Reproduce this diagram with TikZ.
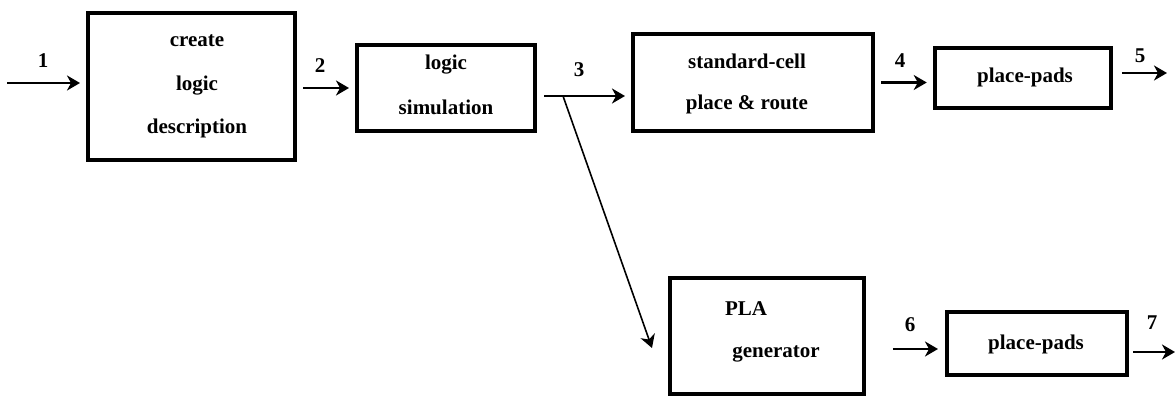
\documentclass[tikz,border=0pt]{standalone}
\usepackage{fontspec}
\setmainfont{Liberation Serif}
\usetikzlibrary{arrows.meta}

\begin{document}
\begin{tikzpicture}[x=1pt, y=-1pt,
  block/.style={draw, line width=4pt, inner sep=0pt, outer sep=0pt, rectangle},
  txt/.style={font=\bfseries\fontsize{21}{25}\selectfont, anchor=base, inner sep=0pt},
  num/.style={font=\bfseries\fontsize{21}{25}\selectfont, anchor=base, inner sep=0pt},
  tip/.style={-{Stealth[length=13pt, width=15pt, inset=4pt]}},
  flow/.style={tip, line width=2.2pt},
  branch/.style={tip, line width=1.6pt}]

\useasboundingbox (0,0) rectangle (1175,396);

% process boxes
\node[block, minimum width=207pt, minimum height=147pt] (create) at (191.5,86.5) {};
\node[block, minimum width=178pt, minimum height=86.5pt] (logic) at (446,88) {};
\node[block, minimum width=240.5pt, minimum height=97pt] (sc) at (752.75,82.5) {};
\node[block, minimum width=176.5pt, minimum height=60.5pt] (padsA) at (1023,78) {};
\node[block, minimum width=194.5pt, minimum height=116pt] (pla) at (767,336) {};
\node[block, minimum width=179.5pt, minimum height=63pt] (padsB) at (1036.75,343.5) {};

% box texts
\node[txt] (createA) at (197,47) {create};
\node[txt] (createB) at (197,90) {logic};
\node[txt] (createC) at (197,133) {description};
\node[txt] (logicA) at (446,70) {logic};
\node[txt] (logicB) at (446,114) {simulation};
\node[txt] (scA) at (747,69) {standard-cell};
\node[txt] (scB) at (747,110) {place \& route};
\node[txt] (padsAT) at (1025,82) {place-pads};
\node[txt] (plaA) at (746,315) {PLA};
\node[txt] (plaB) at (776,357) {generator};
\node[txt] (padsBT) at (1036,349) {place-pads};

% free ends and the fork
\coordinate (in1) at (7,83);
\coordinate (fork) at (563,96);
\coordinate (plaIn) at (652,348);
\coordinate (out5) at (1167,73);
\coordinate (out7) at (1175,352);

% connectors
\draw[flow, shorten >=8pt] (in1) -- (in1 -| create.west);
\draw[flow, shorten <=8pt, shorten >=8pt] (create.east |- logic.center) -- (logic.west);
\draw[flow, shorten <=9pt, shorten >=7.5pt] (logic.east |- fork) -- (fork -| sc.west);
\draw[branch] (fork) -- (plaIn);
\draw[flow, shorten <=8pt, shorten >=8pt] (sc.east) -- (sc.east -| padsA.west);
\draw[flow, shorten <=10.5pt] (padsA.east |- out5) -- (out5);
\draw[flow, shorten <=28.5pt, shorten >=9pt] ([yshift=-5.5pt]padsB.west -| pla.east) -- ([yshift=-5.5pt]padsB.west);
\draw[flow, shorten <=6.5pt] (padsB.east |- out7) -- (out7);

% connector numbers
\node[num] (n1) at (43,67) {1};
\node[num] (n2) at (320,72) {2};
\node[num] (n3) at (579,77) {3};
\node[num] (n4) at (900,67) {4};
\node[num] (n5) at (1140,63) {5};
\node[num] (n6) at (910,331) {6};
\node[num] (n7) at (1152,329) {7};
\end{tikzpicture}
\end{document}
